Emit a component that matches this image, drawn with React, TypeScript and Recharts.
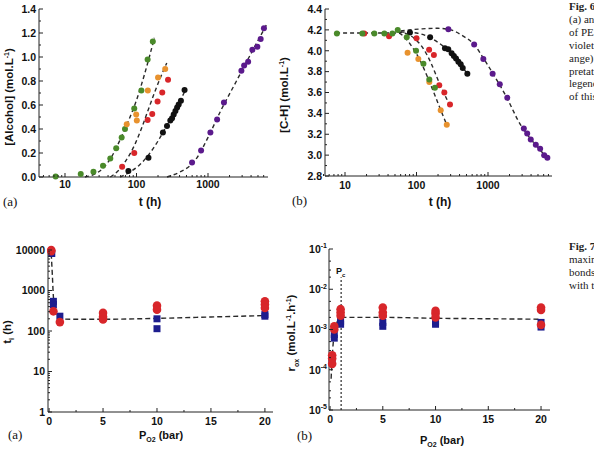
import React from "react";
import { ScatterChart, Scatter, XAxis, YAxis, ReferenceLine } from "recharts";

// ---- Fig. 6a: [Alcohol] vs t (log) ----
const alcGreen = [[7.4, 0.005], [16.6, 0.025], [25, 0.044], [34, 0.094], [43, 0.155], [52, 0.24], [62, 0.33], [69, 0.4], [93, 0.57], [117, 0.72], [143, 0.98], [169, 1.13]];
const alcOrange = [[73, 0.44], [99, 0.52], [101, 0.47], [144, 0.72], [200, 0.83], [252, 0.9]];
const alcRed = [[63, 0.086], [93, 0.2], [143, 0.475], [166, 0.525], [197, 0.63], [229, 0.705], [276, 0.81]];
const alcBlack = [[77, 0.05], [147, 0.16], [234, 0.37], [267, 0.425], [297, 0.47], [314, 0.49], [331, 0.52], [350, 0.55], [370, 0.58], [389, 0.605], [418, 0.635], [470, 0.725]];
const alcViolet = [[598, 0.12], [800, 0.22], [1080, 0.37], [1340, 0.48], [1670, 0.62], [2930, 0.885], [3200, 0.93], [3640, 0.96], [4170, 1.06], [4900, 1.085], [5450, 1.15], [6050, 1.24]];
const alcFitGreen = [[19, 0], [25, 0.02], [35, 0.08], [45, 0.17], [60, 0.32], [75, 0.45], [100, 0.64], [130, 0.86], [178, 1.16]];
const alcFitOrange = [[43, 0], [55, 0.05], [70, 0.13], [93, 0.26], [120, 0.42], [150, 0.58], [200, 0.78], [265, 0.95]];
const alcFitBlack = [[59, 0], [80, 0.04], [110, 0.1], [150, 0.19], [200, 0.3], [260, 0.42], [350, 0.56], [480, 0.72]];
const alcFitViolet = [[267, 0], [400, 0.04], [550, 0.09], [700, 0.16], [1000, 0.33], [1500, 0.55], [2500, 0.8], [4000, 1.03], [6600, 1.27]];

// ---- Fig. 6b: [C-H] vs t (log) ----
const chGreen = [[7.7, 4.165], [17.5, 4.165], [25.7, 4.165], [35.5, 4.165], [46, 4.165], [54.6, 4.2], [73, 4.13], [98.5, 4.0], [125, 3.875], [151, 3.725], [181, 3.645]];
const chRed = [[18.6, 4.165], [41.3, 4.14], [100, 4.12], [150, 4.01], [175, 3.96], [208, 3.67], [245, 3.6], [294, 3.485]];
const chOrange = [[75, 3.98], [106, 3.92], [151, 3.7], [218, 3.43], [265, 3.29]];
const chBlack = [[81, 4.175], [155, 4.13], [250, 4.025], [278, 4.015], [310, 3.975], [333, 3.95], [357, 3.925], [385, 3.895], [415, 3.87], [443, 3.835], [514, 3.78]];
const chViolet = [[279, 4.207], [640, 4.06], [860, 3.92], [1160, 3.78], [1460, 3.68], [1860, 3.55], [3170, 3.255], [3530, 3.207], [3960, 3.15], [4660, 3.1], [5360, 3.06], [6100, 3.0], [6760, 2.975]];
const chFitGreen = [[7.5, 4.17], [40, 4.17], [55, 4.17], [70, 4.12], [90, 4.02], [110, 3.92], [140, 3.76], [170, 3.62], [210, 3.46], [265, 3.29]];
const chFitRed = [[55, 4.18], [80, 4.15], [100, 4.1], [130, 4.0], [160, 3.88], [200, 3.72], [240, 3.6], [290, 3.48]];
const chFitBlack = [[60, 4.18], [100, 4.17], [150, 4.13], [200, 4.08], [250, 4.03], [320, 3.96], [400, 3.88], [500, 3.79]];
const chFitViolet = [[60, 4.19], [120, 4.21], [200, 4.215], [300, 4.2], [450, 4.14], [640, 4.06], [860, 3.93], [1200, 3.77], [1800, 3.56], [2800, 3.3], [4000, 3.15], [5500, 3.04], [7000, 2.96]];

// ---- Fig. 7a: ti vs PO2 ----
const tiRed = [[0.2, 10000], [0.2, 9400], [0.4, 306], [1, 166], [5, 280], [5, 224], [5, 193], [10, 423], [10, 337], [20, 540], [20, 450], [20, 370]];
const tiBlue = [[0.25, 8200], [0.4, 540], [0.4, 450], [1, 232], [10, 200], [10, 114], [20, 255], [20, 232]];
const tiFit = [[0.2, 8000], [0.3, 2500], [0.4, 700], [0.6, 300], [1, 200], [2, 195], [5, 195], [10, 205], [15, 222], [20, 240]];

// ---- Fig. 7b: rox vs PO2 ----
const roxRed = [[0.2, 2.3e-4], [0.2, 1.9e-4], [0.2, 1.4e-4], [0.4, 1.2e-3], [0.4, 1e-3], [1, 3.2e-3], [1, 2.65e-3], [1, 2.2e-3], [5, 3.5e-3], [5, 2.65e-3], [5, 2.2e-3], [10, 2.9e-3], [10, 2.5e-3], [10, 2.0e-3], [20, 3.5e-3], [20, 3.05e-3], [20, 1.3e-3]];
const roxBlue = [[0.2, 1.7e-4], [0.4, 7.5e-4], [0.4, 6.1e-4], [1, 1.6e-3], [1, 1.35e-3], [5, 1.5e-3], [5, 1.2e-3], [10, 1.55e-3], [10, 1.35e-3], [20, 1.5e-3], [20, 1.15e-3]];
const roxFit = [[0.1, 6e-5], [0.2, 2e-4], [0.4, 8e-4], [0.7, 1.6e-3], [1, 2e-3], [5, 2e-3], [10, 1.9e-3], [15, 1.85e-3], [20, 1.8e-3]];
const pc = 1.05;

// ticks
const logTimeTicks = [5, 6, 7, 8, 9, 10, 20, 30, 40, 50, 60, 70, 80, 90, 100, 200, 300, 400, 500, 600, 700, 800, 900, 1000, 2000, 3000, 4000, 5000, 6000];
const alcTicks = [0, 0.1, 0.2, 0.3, 0.4, 0.5, 0.6, 0.7, 0.8, 0.9, 1.0, 1.1, 1.2, 1.3, 1.4];
const chTicks = [2.8, 2.9, 3.0, 3.1, 3.2, 3.3, 3.4, 3.5, 3.6, 3.7, 3.8, 3.9, 4.0, 4.1, 4.2, 4.3, 4.4];
const pTicks = [0, 2.5, 5, 7.5, 10, 12.5, 15, 17.5, 20];
const tiTicks = [1, 2, 3, 4, 5, 6, 7, 8, 9, 10, 20, 30, 40, 50, 60, 70, 80, 90, 100, 200, 300, 400, 500, 600, 700, 800, 900, 1000, 2000, 3000, 4000, 5000, 6000, 7000, 8000, 9000, 10000];
const roxTicks = [1e-5, 2e-5, 3e-5, 5e-5, 1e-4, 2e-4, 3e-4, 5e-4, 1e-3, 2e-3, 3e-3, 5e-3, 1e-2, 2e-2, 3e-2, 5e-2, 1e-1];

const GREEN = "#4a8a2a";
const ORANGE = "#e8922e";
const RED = "#d8262a";
const BLACK = "#111111";
const VIOLET = "#5b1a8c";
const BLUE = "#1d1d8e";
const FIT = "#2a2a2a";

const SANS = "'Liberation Sans', Arial, sans-serif";
const SERIF = "'Liberation Serif', 'Times New Roman', serif";

const pts = (arr: number[][]) => arr.map(([x, y]) => ({ x, y }));
const isDecade = (v: number) => Math.abs(Math.log10(v) - Math.round(Math.log10(v))) < 1e-6;

function makeTick(side: "bottom" | "left", major: (v: number) => boolean, fmt: (v: number) => React.ReactNode, gap: number) {
  return (props: any) => {
    const { x, y, payload } = props;
    const v = payload.value;
    const maj = major(v);
    const len = maj ? 4 : 2;
    if (side === "bottom") {
      return (
        <g>
          <line x1={x} x2={x} y1={y} y2={y - len} stroke="#222" />
          {maj && (
            <text x={x} y={y + gap} textAnchor="middle" fontFamily={SANS} fontWeight="bold" fontSize={10.5} fill="#111">
              {fmt(v)}
            </text>
          )}
        </g>
      );
    }
    return (
      <g>
        <line x1={x} x2={x + len} y1={y} y2={y} stroke="#222" />
        {maj && (
          <text x={x - gap} y={y + 3.8} textAnchor="end" fontFamily={SANS} fontWeight="bold" fontSize={10.5} fill="#111">
            {fmt(v)}
          </text>
        )}
      </g>
    );
  };
}

const dot = (color: string, r: number) => (p: any) => <circle cx={p.cx} cy={p.cy} r={r} fill={color} />;
const square = (color: string, s: number) => (p: any) => <rect x={p.cx - s / 2} y={p.cy - s / 2} width={s} height={s} fill={color} />;
const none = () => <g />;

const fitLine = (dash: string) => ({ stroke: FIT, strokeWidth: 1.4, strokeDasharray: dash });

const axisCommon = { tickSize: 0, tickMargin: 0, interval: 0 as const, stroke: "#222", axisLine: { stroke: "#222", strokeWidth: 1 } };

function AlcoholChart() {
  return (
    <ScatterChart width={290} height={230} margin={{ top: 9, right: 22, bottom: 0, left: 0 }}>
      <XAxis dataKey="x" type="number" scale="log" domain={[4.33, 6900]} ticks={logTimeTicks} height={53}
        tick={makeTick("bottom", isDecade, (v) => String(v), 11)} {...axisCommon} />
      <YAxis dataKey="y" type="number" domain={[0, 1.4]} ticks={alcTicks} width={39}
        tick={makeTick("left", (v) => Math.round(v * 10) % 2 === 0, (v) => v.toFixed(1), 3)} {...axisCommon} />
      {[alcFitGreen, alcFitOrange, alcFitBlack, alcFitViolet].map((d, i) => (
        <Scatter key={"f" + i} data={pts(d)} line={fitLine("4 3")} lineJointType="monotoneX" shape={none} isAnimationActive={false} />
      ))}
      <Scatter data={pts(alcGreen)} shape={dot(GREEN, 3)} isAnimationActive={false} />
      <Scatter data={pts(alcOrange)} shape={dot(ORANGE, 3)} isAnimationActive={false} />
      <Scatter data={pts(alcRed)} shape={dot(RED, 3)} isAnimationActive={false} />
      <Scatter data={pts(alcBlack)} shape={dot(BLACK, 3)} isAnimationActive={false} />
      <Scatter data={pts(alcViolet)} shape={dot(VIOLET, 3)} isAnimationActive={false} />
    </ScatterChart>
  );
}

function CHChart() {
  return (
    <ScatterChart width={270} height={230} margin={{ top: 9, right: 8, bottom: 0, left: 0 }}>
      <XAxis dataKey="x" type="number" scale="log" domain={[5.25, 7850]} ticks={logTimeTicks.concat([7000])} height={54}
        tick={makeTick("bottom", isDecade, (v) => String(v), 12.5)} {...axisCommon} />
      <YAxis dataKey="y" type="number" domain={[2.8, 4.4]} ticks={chTicks} width={35}
        tick={makeTick("left", (v) => Math.round(v * 10) % 2 === 0, (v) => v.toFixed(1), 3)} {...axisCommon} />
      {[chFitGreen, chFitRed, chFitBlack, chFitViolet].map((d, i) => (
        <Scatter key={"f" + i} data={pts(d)} line={fitLine("4 3")} lineJointType="monotoneX" shape={none} isAnimationActive={false} />
      ))}
      <Scatter data={pts(chOrange)} shape={dot(ORANGE, 3)} isAnimationActive={false} />
      <Scatter data={pts(chRed)} shape={dot(RED, 3)} isAnimationActive={false} />
      <Scatter data={pts(chBlack)} shape={dot(BLACK, 3)} isAnimationActive={false} />
      <Scatter data={pts(chGreen)} shape={dot(GREEN, 3)} isAnimationActive={false} />
      <Scatter data={pts(chViolet)} shape={dot(VIOLET, 3)} isAnimationActive={false} />
    </ScatterChart>
  );
}

function TiChart() {
  return (
    <ScatterChart width={290} height={230} margin={{ top: 20, right: 17, bottom: 0, left: 0 }}>
      <XAxis dataKey="x" type="number" domain={[-0.1, 20.75]} ticks={pTicks} height={48}
        tick={makeTick("bottom", (v) => v % 5 === 0, (v) => String(v), 12.5)} {...axisCommon} />
      <YAxis dataKey="y" type="number" scale="log" domain={[1, 10000]} ticks={tiTicks} width={48}
        tick={makeTick("left", isDecade, (v) => String(v), 3)} {...axisCommon} />
      <Scatter data={pts(tiFit)} line={fitLine("5 3")} lineJointType="monotoneX" shape={none} isAnimationActive={false} />
      <Scatter data={pts(tiBlue)} shape={square(BLUE, 7)} isAnimationActive={false} />
      <Scatter data={pts(tiRed)} shape={dot(RED, 4.3)} isAnimationActive={false} />
    </ScatterChart>
  );
}

const sup = (v: number) => (
  <>
    <tspan>10</tspan>
    <tspan dy={-4.5} fontSize={7}>{String(Math.round(Math.log10(v)))}</tspan>
  </>
);

function RoxChart() {
  return (
    <ScatterChart width={270} height={230} margin={{ top: 19, right: 10, bottom: 0, left: 0 }}>
      <XAxis dataKey="x" type="number" domain={[-0.1, 20.85]} ticks={pTicks} height={50}
        tick={makeTick("bottom", (v) => v % 5 === 0, (v) => String(v), 12.5)} {...axisCommon} />
      <YAxis dataKey="y" type="number" scale="log" domain={[1e-5, 1e-1]} ticks={roxTicks} width={39}
        tick={makeTick("left", isDecade, sup, 2)} {...axisCommon} />
      <ReferenceLine segment={[{ x: pc, y: 1e-5 }, { x: pc, y: 0.02 }]} stroke={FIT} strokeWidth={1.2} strokeDasharray="2 2" />
      <Scatter data={pts(roxFit)} line={fitLine("5 3")} lineJointType="monotoneX" shape={none} isAnimationActive={false} />
      <Scatter data={pts(roxBlue)} shape={square(BLUE, 7)} isAnimationActive={false} />
      <Scatter data={pts(roxRed)} shape={dot(RED, 4.3)} isAnimationActive={false} />
    </ScatterChart>
  );
}

const abs = (left: number, top: number): React.CSSProperties => ({ position: "absolute", left, top });

function VLabel({ x, y, children }: { x: number; y: number; children: React.ReactNode }) {
  return (
    <div style={{ position: "absolute", left: x, top: y, transform: "translate(-50%, -50%) rotate(-90deg)", whiteSpace: "nowrap", fontFamily: SANS, fontWeight: "bold", fontSize: 11.5, color: "#111" }}>
      {children}
    </div>
  );
}

function HLabel({ x, y, size = 12, children }: { x: number; y: number; size?: number; children: React.ReactNode }) {
  return (
    <div style={{ position: "absolute", left: x, top: y, transform: "translate(-50%, -50%)", whiteSpace: "nowrap", fontFamily: SANS, fontWeight: "bold", fontSize: size, lineHeight: 1, color: "#111" }}>
      {children}
    </div>
  );
}

function Letter({ x, y, children }: { x: number; y: number; children: React.ReactNode }) {
  return (
    <div style={{ position: "absolute", left: x, top: y, transform: "translateY(-50%)", fontFamily: SERIF, fontSize: 13, color: "#111" }}>{children}</div>
  );
}

const supS: React.CSSProperties = { fontSize: 7, verticalAlign: "super" };
const subS: React.CSSProperties = { fontSize: 7, verticalAlign: "sub", lineHeight: 0 };

const fig6Lines = ["(a) and", "of PE", "violet", "ange)", "pretation", "legend", "of this"];
const fig7Lines = ["maximum", "bonds", "with the"];

export default function App() {
  return (
    <div style={{ position: "fixed", left: 0, top: 0, width: 594, height: 460, overflow: "hidden", background: "#fff" }}>
      <div style={abs(0, 0)}><AlcoholChart /></div>
      <div style={abs(290, 0)}><CHChart /></div>
      <div style={abs(0, 230)}><TiChart /></div>
      <div style={abs(290, 230)}><RoxChart /></div>

      <VLabel x={9} y={97}>[Alcohol] (mol.L<span style={supS}>-1</span>)</VLabel>
      <VLabel x={284} y={95}>[C-H] (mol.L<span style={supS}>-1</span>)</VLabel>
      <VLabel x={7} y={332}>t<span style={subS}>i</span> (h)</VLabel>
      <VLabel x={291} y={333}>r<span style={subS}>ox</span> (mol.L<span style={supS}>-1</span>.h<span style={supS}>-1</span>)</VLabel>

      <HLabel x={150} y={202}>t (h)</HLabel>
      <HLabel x={440} y={202}>t (h)</HLabel>
      <HLabel x={161} y={435} size={11}>P<span style={subS}>O2</span> (bar)</HLabel>
      <HLabel x={442} y={440} size={11}>P<span style={subS}>O2</span> (bar)</HLabel>

      <Letter x={3} y={202}>(a)</Letter>
      <Letter x={292} y={201}>(b)</Letter>
      <Letter x={8} y={435}>(a)</Letter>
      <Letter x={297} y={436}>(b)</Letter>

      <div style={{ position: "absolute", left: 336, top: 266, fontFamily: SANS, fontWeight: "bold", fontSize: 9, color: "#111" }}>
        P<span style={{ fontSize: 6, verticalAlign: "sub" }}>c</span>
      </div>

      <div style={{ position: "absolute", left: 569, top: 0, fontFamily: SERIF, fontSize: 11, lineHeight: "12.9px", color: "#222", whiteSpace: "nowrap" }}>
        <div style={{ fontWeight: "bold" }}>Fig. 6.</div>
        {fig6Lines.map((t) => <div key={t}>{t}</div>)}
      </div>
      <div style={{ position: "absolute", left: 569, top: 239.5, fontFamily: SERIF, fontSize: 11, lineHeight: "13.2px", color: "#222", whiteSpace: "nowrap" }}>
        <div style={{ fontWeight: "bold" }}>Fig. 7.</div>
        {fig7Lines.map((t) => <div key={t}>{t}</div>)}
      </div>
    </div>
  );
}
